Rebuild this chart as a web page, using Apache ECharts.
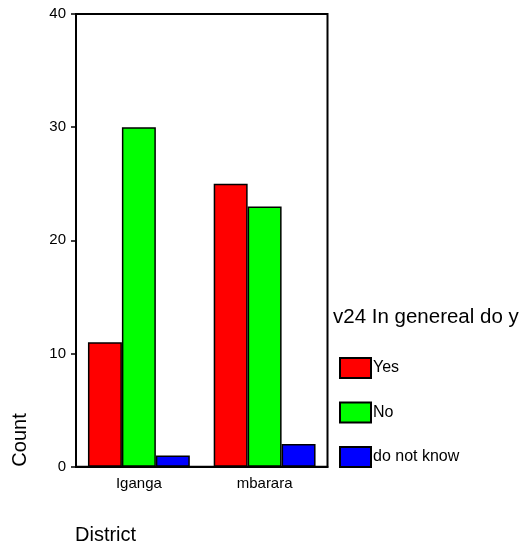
<!DOCTYPE html>
<html>
<head>
<meta charset="utf-8">
<script src="https://cdn.jsdelivr.net/npm/echarts@6/dist/echarts.min.js"></script>
<style>html,body{margin:0;padding:0;background:#fff}#c{width:525px;height:544px}</style>
</head>
<body>
<div id="c"></div>
<script>
const categories = ['Iganga', 'mbarara'];
const yesValues = [11, 25];
const noValues = [30, 23];
const dontKnowValues = [1, 2];
const seriesNames = ['Yes', 'No', 'do not know'];
const yTicks = [0, 10, 20, 30, 40];
const legendTitle = 'v24 In genereal do y';
const xTitle = 'District';
const yTitle = 'Count';

const FONT = 'Liberation Sans, Arial, sans-serif';
const chart = echarts.init(document.getElementById('c'), null, {renderer: 'canvas'});
const barStyle = (c) => ({color: c, borderColor: '#000', borderWidth: 1.5});
chart.setOption({
  animation: false,
  backgroundColor: '#fff',
  title: {
    text: legendTitle, left: 328, top: 302,
    textStyle: {fontFamily: FONT, fontSize: 20.5, fontWeight: 'normal', color: '#000'}
  },
  legend: {
    orient: 'vertical', left: 334, top: 352,
    itemWidth: 31, itemHeight: 20, itemGap: 22.5,
    icon: 'rect',
    textStyle: {fontFamily: FONT, fontSize: 16, color: '#000', padding: [3, 0, 0, -3]},
    data: seriesNames
  },
  grid: {
    left: 76, top: 14, right: 197.5, bottom: 77.3,
    show: true, borderColor: '#000', borderWidth: 2, containLabel: false
  },
  xAxis: {
    type: 'category', data: categories,
    axisLine: {lineStyle: {color: '#000', width: 2}},
    axisTick: {alignWithLabel: true, length: 5, lineStyle: {color: '#000', width: 1.5}},
    axisLabel: {fontFamily: FONT, fontSize: 15, color: '#000', margin: 10}
  },
  yAxis: {
    type: 'value', min: yTicks[0], max: yTicks[yTicks.length - 1], interval: 10,
    axisLine: {show: true, lineStyle: {color: '#000', width: 2}},
    axisTick: {show: true, length: 5, lineStyle: {color: '#000', width: 1.5}},
    splitLine: {show: false},
    axisLabel: {fontFamily: FONT, fontSize: 15, color: '#000', margin: 10}
  },
  series: [
    {name: seriesNames[0], type: 'bar', data: yesValues, barGap: '0%', barCategoryGap: '19%', itemStyle: barStyle('#ff0000')},
    {name: seriesNames[1], type: 'bar', data: noValues, itemStyle: barStyle('#00ff00')},
    {name: seriesNames[2], type: 'bar', data: dontKnowValues, itemStyle: barStyle('#0000ff')}
  ],
  graphic: [
    {type: 'text', x: 20, y: 440, rotation: Math.PI / 2,
     style: {text: yTitle, fontFamily: FONT, fontSize: 20, fill: '#000', textAlign: 'center', textVerticalAlign: 'middle'}},
    {type: 'text', x: 75, y: 535,
     style: {text: xTitle, fontFamily: FONT, fontSize: 20, fill: '#000', textAlign: 'left', textVerticalAlign: 'middle'}}
  ]
});
</script>
</body>
</html>
